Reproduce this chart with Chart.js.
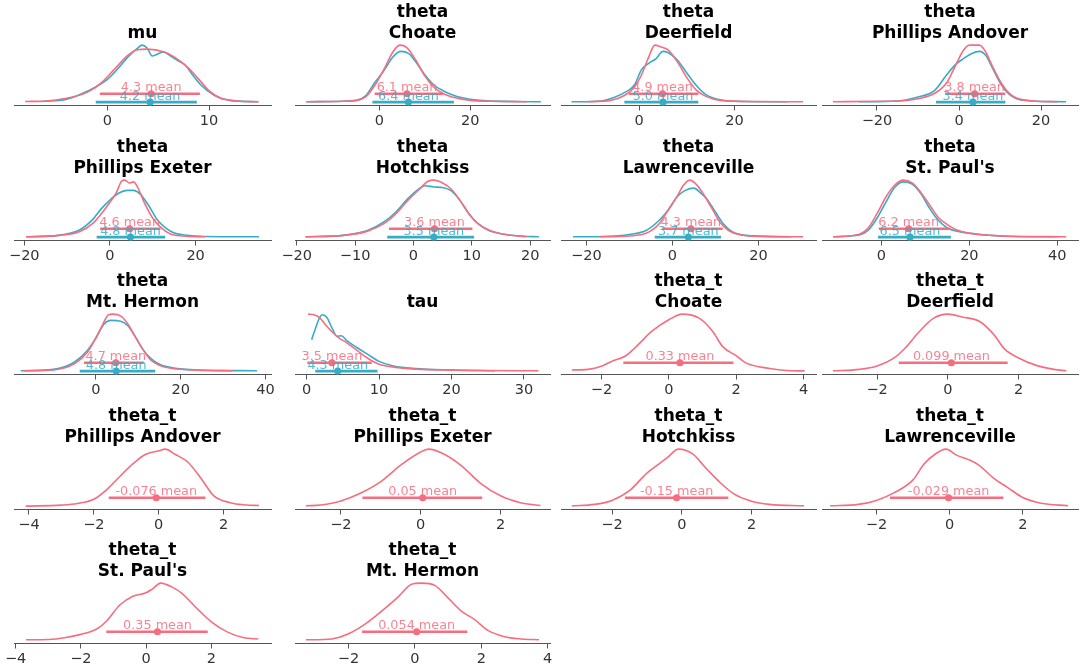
<!DOCTYPE html>
<html>
<head>
<meta charset="utf-8">
<script src="https://cdn.jsdelivr.net/npm/chart.js@4.4.1/dist/chart.umd.min.js"></script>
<style>
  html, body { margin: 0; padding: 0; background: #fff; }
  body { width: 1080px; height: 672px; position: relative; overflow: hidden; }
  canvas { position: absolute; }
</style>
</head>
<body>
<script>
/* global Chart */

// titles: first line (variable) and second line (school)
const panelVars = ['', 'theta', 'theta', 'theta', 'theta', 'theta', 'theta', 'theta', 'theta', '',
  'theta_t', 'theta_t', 'theta_t', 'theta_t', 'theta_t', 'theta_t', 'theta_t', 'theta_t'];
const panelNames = ['mu', 'Choate', 'Deerfield', 'Phillips Andover', 'Phillips Exeter', 'Hotchkiss',
  'Lawrenceville', "St. Paul's", 'Mt. Hermon', 'tau', 'Choate', 'Deerfield', 'Phillips Andover',
  'Phillips Exeter', 'Hotchkiss', 'Lawrenceville', "St. Paul's", 'Mt. Hermon'];

const xLimits = [[-9.2, 16.1], [-18.5, 37.5], [-16.4, 37.1], [-33.4, 29], [-22.4, 37.6], [-20.3, 23.4],
  [-25.9, 33.4], [-13.5, 44.7], [-19.3, 41.3], [-1.6, 33.6], [-3.2, 4.37], [-3.56, 3.68],
  [-4.46, 3.46], [-3.15, 3.24], [-3.46, 3.84], [-3.49, 3.51], [-4.05, 3.83], [-3.61, 4.07]];

const xTicks = [[0, 10], [0, 20], [0, 20], [-20, 0, 20], [-20, 0, 20], [-20, -10, 0, 10, 20],
  [-20, 0, 20], [0, 20, 40], [0, 20, 40], [0, 10, 20, 30], [-2, 0, 2, 4], [-2, 0, 2],
  [-4, -2, 0, 2], [-2, 0, 2], [-2, 0, 2], [-2, 0, 2], [-4, -2, 0, 2], [-2, 0, 2, 4]];

// density curves, height relative to the tallest curve of each panel
const pinkCurves = [
  [[-8.1, 0.01], [-6, 0.02], [-4.3, 0.06], [-2, 0.17], [-0.66, 0.33], [0.66, 0.57], [2, 0.82], [2.95, 0.92], [3.9, 0.93], [5.6, 0.88], [6.6, 0.79], [7.9, 0.61], [8.85, 0.43], [10, 0.2], [11.1, 0.07], [12.8, 0.02], [14.9, 0.005]],
  [[-16, 0.005], [-8, 0.015], [-5, 0.03], [-3, 0.09], [-1, 0.29], [1, 0.57], [3, 0.88], [4.5, 1.0], [6, 0.96], [8, 0.74], [10, 0.46], [12, 0.26], [14, 0.15], [16, 0.09], [20, 0.03], [25, 0.015], [32.4, 0.005]],
  [[-11, 0.005], [-6, 0.03], [-3, 0.12], [-1, 0.26], [0.5, 0.48], [2, 0.79], [3.3, 1.0], [4.5, 0.97], [6, 0.92], [8, 0.71], [10, 0.43], [12, 0.21], [14, 0.1], [17, 0.03], [25, 0.01], [34.4, 0.005]],
  [[-30.7, 0.005], [-20, 0.015], [-15, 0.02], [-10, 0.06], [-6, 0.15], [-3, 0.34], [-1, 0.62], [1, 0.9], [2.5, 1.0], [5, 1.0], [6.5, 0.88], [8, 0.65], [10, 0.37], [12, 0.17], [14, 0.07], [18, 0.02], [24, 0.005]],
  [[-19.6, 0.005], [-12, 0.03], [-7, 0.1], [-4, 0.24], [-2, 0.41], [0, 0.61], [1.5, 0.78], [2.7, 0.98], [3.5, 1.0], [4.5, 0.95], [5.5, 0.97], [6.5, 0.87], [8, 0.61], [10, 0.33], [12, 0.16], [14, 0.06], [17, 0.02], [22.2, 0.005]],
  [[-18.5, 0.005], [-12, 0.03], [-8, 0.1], [-5, 0.24], [-3, 0.41], [-1, 0.64], [1, 0.84], [2.5, 0.98], [3.5, 1.0], [5, 0.95], [6.5, 0.84], [8, 0.64], [9.5, 0.41], [11, 0.24], [13, 0.12], [15, 0.06], [19.4, 0.005]],
  [[-17, 0.005], [-10, 0.02], [-6, 0.07], [-3, 0.24], [-1, 0.47], [1, 0.7], [2.5, 0.9], [4, 1.0], [5.5, 0.93], [7, 0.78], [9, 0.53], [11, 0.27], [13, 0.12], [16, 0.04], [20, 0.01], [30.4, 0.005]],
  [[-11, 0.005], [-5, 0.05], [-3, 0.16], [-1, 0.41], [1, 0.7], [3, 0.91], [5, 1.0], [7, 0.95], [9, 0.78], [11, 0.56], [13, 0.34], [15, 0.22], [17, 0.13], [20, 0.07], [25, 0.03], [30, 0.015], [42, 0.005]],
  [[-17, 0.005], [-10, 0.02], [-5, 0.13], [-2, 0.33], [0, 0.58], [1.5, 0.8], [3, 0.99], [4, 1.0], [6, 0.96], [7.5, 0.83], [9, 0.64], [11, 0.39], [13, 0.19], [15, 0.1], [18, 0.045], [24, 0.017], [32.3, 0.005]],
  [[0.2, 1.0], [1, 0.99], [1.8, 0.94], [2.5, 0.83], [3.5, 0.69], [4.5, 0.58], [5.5, 0.5], [7, 0.36], [8.5, 0.22], [10, 0.12], [12, 0.07], [15, 0.035], [20, 0.017], [25, 0.01], [32, 0.005]],
  [[-2.88, 0.02], [-2.4, 0.03], [-2, 0.085], [-1.7, 0.17], [-1.3, 0.26], [-1, 0.41], [-0.5, 0.7], [0, 0.9], [0.4, 1.0], [0.9, 0.93], [1.3, 0.7], [1.6, 0.43], [2, 0.27], [2.3, 0.14], [3, 0.045], [3.5, 0.01], [4.03, 0.003]],
  [[-3.25, 0.005], [-2.5, 0.03], [-2, 0.09], [-1.5, 0.24], [-1.2, 0.41], [-0.8, 0.7], [-0.4, 0.93], [0, 1.0], [0.4, 0.95], [0.9, 0.87], [1.3, 0.64], [1.6, 0.39], [2, 0.23], [2.5, 0.1], [3, 0.03], [3.35, 0.005]],
  [[-4.1, 0.0], [-3, 0.017], [-2.5, 0.045], [-2, 0.12], [-1.6, 0.29], [-1.2, 0.52], [-0.8, 0.74], [-0.4, 0.91], [0, 0.97], [0.2, 1.0], [0.5, 0.91], [0.9, 0.77], [1.3, 0.49], [1.7, 0.18], [2.2, 0.06], [2.7, 0.02], [3.09, 0.01]],
  [[-2.88, 0.005], [-2.5, 0.02], [-2, 0.09], [-1.5, 0.23], [-1, 0.43], [-0.5, 0.72], [0, 0.95], [0.2, 1.0], [0.5, 0.94], [1, 0.72], [1.5, 0.4], [2, 0.18], [2.5, 0.06], [3.0, 0.01]],
  [[-3.15, 0.005], [-2.5, 0.03], [-2, 0.1], [-1.5, 0.27], [-1, 0.58], [-0.7, 0.72], [-0.4, 0.86], [-0.1, 1.0], [0.3, 0.92], [0.7, 0.66], [1.1, 0.41], [1.5, 0.21], [2, 0.085], [2.5, 0.03], [3.5, 0.005]],
  [[-3.27, 0.005], [-2.5, 0.03], [-2, 0.1], [-1.5, 0.24], [-1, 0.46], [-0.7, 0.74], [-0.4, 0.91], [-0.1, 1.0], [0.2, 0.89], [0.5, 0.82], [0.8, 0.72], [1.2, 0.49], [1.6, 0.32], [2, 0.15], [2.5, 0.05], [3.24, 0.005]],
  [[-3.68, 0.005], [-3, 0.01], [-2.5, 0.04], [-2, 0.1], [-1.5, 0.2], [-1.2, 0.34], [-0.8, 0.62], [-0.4, 0.77], [0, 0.83], [0.2, 0.9], [0.45, 1.0], [0.8, 0.93], [1.1, 0.82], [1.5, 0.59], [2, 0.32], [2.5, 0.14], [3, 0.04], [3.44, 0.02]],
  [[-3.28, 0.005], [-2.5, 0.02], [-2, 0.11], [-1.5, 0.28], [-1, 0.51], [-0.5, 0.76], [-0.1, 0.98], [0.2, 1.0], [0.6, 0.96], [1, 0.74], [1.4, 0.51], [1.8, 0.36], [2.2, 0.17], [2.7, 0.06], [3.2, 0.02], [3.74, 0.005]],
];

const tealCurves = [
  [[-6.5, 0.01], [-4, 0.05], [-2, 0.19], [0, 0.4], [1, 0.58], [2, 0.79], [3, 0.95], [3.4, 1.0], [3.9, 0.95], [4.4, 0.81], [5.5, 0.88], [6.3, 0.8], [7, 0.72], [7.6, 0.66], [8.2, 0.52], [9.2, 0.3], [10.5, 0.12], [12, 0.03], [14.8, 0.005]],
  [[-16, 0.005], [-8, 0.015], [-5, 0.03], [-3, 0.11], [-1, 0.34], [1, 0.55], [3, 0.79], [4.7, 0.89], [6.5, 0.85], [8, 0.71], [10, 0.48], [12, 0.3], [14, 0.2], [16, 0.13], [18, 0.08], [22, 0.03], [30, 0.01], [35.5, 0.005]],
  [[-14.2, 0.005], [-8, 0.02], [-5, 0.09], [-3, 0.17], [-1, 0.3], [0.5, 0.57], [2, 0.68], [3.5, 0.76], [5, 0.89], [6, 0.87], [8, 0.74], [10, 0.51], [12, 0.29], [14, 0.13], [17, 0.04], [22, 0.01], [31.2, 0.005]],
  [[-24.4, 0.005], [-15, 0.02], [-10, 0.09], [-6, 0.2], [-3, 0.48], [-1, 0.65], [1, 0.76], [3, 0.85], [5, 0.89], [6.5, 0.82], [8, 0.62], [10, 0.34], [12, 0.15], [14, 0.06], [18, 0.02], [26.1, 0.005]],
  [[-19.6, 0.005], [-12, 0.03], [-7, 0.13], [-4, 0.31], [-2, 0.5], [0, 0.65], [2, 0.77], [4, 0.82], [5.5, 0.82], [7, 0.76], [9, 0.56], [11, 0.31], [13, 0.16], [15, 0.07], [18, 0.03], [22, 0.01], [34.8, 0.005]],
  [[-18.5, 0.005], [-12, 0.03], [-8, 0.11], [-5, 0.27], [-3, 0.44], [-1, 0.67], [1, 0.85], [2, 0.9], [3.5, 0.88], [5, 0.87], [6.5, 0.81], [8, 0.64], [9.5, 0.41], [11, 0.24], [13, 0.11], [15, 0.06], [18, 0.02], [21.5, 0.005]],
  [[-23.1, 0.005], [-16, 0.01], [-10, 0.045], [-6, 0.12], [-3, 0.3], [-1, 0.47], [1, 0.7], [3, 0.82], [5, 0.86], [6.5, 0.78], [8, 0.67], [10, 0.44], [12, 0.22], [14, 0.09], [17, 0.03], [27.6, 0.005]],
  [[-11, 0.005], [-5, 0.035], [-3, 0.12], [-1, 0.33], [1, 0.61], [3, 0.87], [5, 0.97], [7, 0.93], [9, 0.76], [11, 0.5], [13, 0.29], [15, 0.16], [18, 0.09], [22, 0.05], [28, 0.015], [40, 0.005]],
  [[-17.7, 0.005], [-10, 0.03], [-5, 0.16], [-2, 0.36], [0, 0.58], [2, 0.83], [3.5, 0.89], [6, 0.87], [7.5, 0.8], [9, 0.64], [11, 0.39], [13, 0.22], [15, 0.12], [18, 0.06], [24, 0.02], [38, 0.005]],
  [[0.7, 0.55], [1.2, 0.74], [1.8, 0.94], [2.2, 0.99], [2.8, 0.94], [3.5, 0.76], [4.2, 0.61], [4.8, 0.62], [5.5, 0.54], [7, 0.41], [8.5, 0.29], [10, 0.17], [12, 0.09], [15, 0.045], [20, 0.02], [26, 0.005]],
  null, null, null, null, null, null, null, null,
];

// means (as printed) and HDI intervals
const pinkMeans = ['4.3', '6.1', '4.9', '3.8', '4.6', '3.6', '4.3', '6.2', '4.7', '3.5',
  '0.33', '0.099', '-0.076', '0.05', '-0.15', '-0.029', '0.35', '0.054'];
const tealMeans = ['4.2', '6.4', '5.0', '3.4', '4.8', '3.5', '3.7', '6.5', '4.8', '4.3'];
const pinkHdi = [[-0.75, 9.1], [-1.0, 14.0], [-2.2, 12.4], [-3.4, 11.3], [-2.3, 11.8], [-4.2, 10.1],
  [-2.4, 11.7], [-0.6, 15.7], [-2.8, 11.3], [0.1, 9.0], [-1.35, 1.92], [-1.39, 1.69],
  [-1.54, 1.44], [-1.46, 1.54], [-1.63, 1.33], [-1.63, 1.47], [-1.22, 1.89], [-1.59, 1.58]];
const tealHdi = [[-1.15, 8.8], [-1.5, 16.4], [-3.1, 12.4], [-5.6, 11.3], [-3.1, 12.9], [-4.5, 10.4],
  [-4.1, 11.3], [-0.8, 15.8], [-3.8, 14.0], [1.2, 9.8]];

const PINK = '#f66d7f';
const TEAL = '#36acc6';
const PINK_HDI_Y = 0.146;
const TEAL_HDI_Y = 0;

// layout of the 4 x 5 grid (axis extent in px)
const colBounds = [[14, 270.7], [295.3, 550.7], [560.7, 815.7], [822.3, 1078]];
const rowAxis = [109, 243.6, 378.2, 512.8, 647.4];
const SIDE = 24;
const TOP_OFF = 111;
const CANVAS_H = 133;

Chart.defaults.font.family = '"DejaVu Sans", sans-serif';

const fmtTick = (v) => (v < 0 ? '\u2212' + Math.abs(v) : String(v));

const meanTextPlugin = {
  id: 'meanText',
  afterDatasetsDraw(chart, args, opts) {
    const { ctx } = chart;
    const xs = chart.scales.x;
    const ys = chart.scales.y;
    opts.items.forEach((it) => {
      ctx.save();
      ctx.font = '12.8px "DejaVu Sans"';
      ctx.fillStyle = it.color;
      ctx.globalAlpha = 0.85;
      ctx.textAlign = 'center';
      ctx.textBaseline = 'alphabetic';
      ctx.fillText(it.text + ' mean', xs.getPixelForValue(it.x), ys.getPixelForValue(it.y) - 2.5);
      ctx.restore();
    });
  },
};

function curveSet(points, color) {
  return {
    data: points.map(([x, y]) => ({ x, y })),
    borderColor: color,
    borderWidth: 1.6,
    pointRadius: 0,
    cubicInterpolationMode: 'monotone',
    fill: false,
    clip: false,
  };
}

function hdiSets(hdi, mean, yPos, color) {
  return [
    {
      data: [{ x: parseFloat(mean), y: yPos }],
      showLine: false,
      pointRadius: 3.6,
      pointBackgroundColor: color,
      pointBorderWidth: 0,
      clip: false,
    },
    {
      data: [{ x: hdi[0], y: yPos }, { x: hdi[1], y: yPos }],
      borderColor: color,
      borderWidth: 2.6,
      pointRadius: 0,
      clip: false,
    },
  ];
}

panelNames.forEach((name, i) => {
  const col = i % 4;
  const row = Math.floor(i / 4);
  const [left, right] = colBounds[col];
  const canvas = document.createElement('canvas');
  canvas.width = Math.round(right - left + 2 * SIDE);
  canvas.height = CANVAS_H;
  canvas.style.left = (left - SIDE) + 'px';
  canvas.style.top = (rowAxis[row] - TOP_OFF) + 'px';
  document.body.appendChild(canvas);

  const datasets = [];
  const texts = [];
  datasets.push(...hdiSets(pinkHdi[i], pinkMeans[i], PINK_HDI_Y, PINK));
  datasets.push(curveSet(pinkCurves[i], PINK));
  texts.push({ text: pinkMeans[i], x: parseFloat(pinkMeans[i]), y: PINK_HDI_Y, color: PINK });
  if (tealCurves[i]) {
    datasets.push(...hdiSets(tealHdi[i], tealMeans[i], TEAL_HDI_Y, TEAL));
    datasets.push(curveSet(tealCurves[i], TEAL));
    texts.push({ text: tealMeans[i], x: parseFloat(tealMeans[i]), y: TEAL_HDI_Y, color: TEAL });
  }

  new Chart(canvas, {
    type: 'line',
    data: { datasets },
    plugins: [meanTextPlugin],
    options: {
      responsive: false,
      animation: false,
      layout: { padding: { left: SIDE, right: SIDE, top: 0, bottom: 0 } },
      scales: {
        x: {
          type: 'linear',
          min: xLimits[i][0],
          max: xLimits[i][1],
          afterBuildTicks: (scale) => {
            scale.ticks = xTicks[i].map((v) => ({ value: v }));
          },
          ticks: {
            callback: (v) => fmtTick(v),
            autoSkip: false,
            maxRotation: 0,
            padding: 3,
            color: '#333',
            font: { size: 14.5, lineHeight: 1 },
          },
          grid: { display: true, drawOnChartArea: false, drawTicks: true, tickLength: 5, tickColor: '#555', tickWidth: 1 },
          border: { display: true, color: '#555', width: 1 },
        },
        y: { display: false, min: -0.06, max: 1.0 },
      },
      plugins: {
        legend: { display: false },
        tooltip: { enabled: false },
        title: {
          display: true,
          text: [panelVars[i], name],
          color: '#000',
          font: { size: 17, weight: 'bold', lineHeight: 1.18 },
          padding: { top: 5, bottom: 2 },
        },
        meanText: { items: texts },
      },
    },
  });
});
</script>
</body>
</html>
